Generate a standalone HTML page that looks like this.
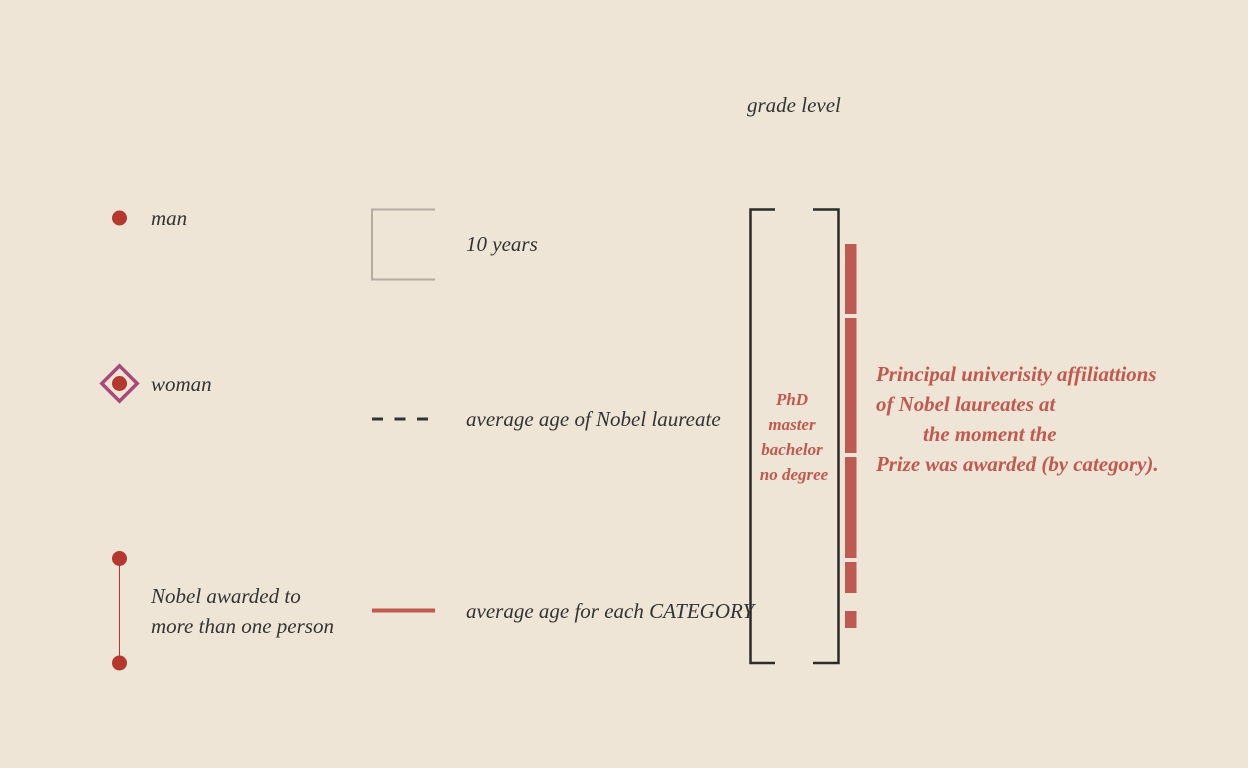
<!DOCTYPE html>
<html><head><meta charset="utf-8"><style>
html,body{margin:0;padding:0;background:#efe5d6;}
svg{display:block;font-family:"Liberation Serif",serif;font-style:italic;}
</style></head><body>
<svg width="1248" height="768" viewBox="0 0 1248 768">
<rect width="1248" height="768" fill="#efe5d6"/>
<g>
<circle cx="119.5" cy="218" r="7.5" fill="#b5382f"/>
<text x="151" y="225" font-size="21" fill="#333">man</text>
</g>
<g>
<rect x="107" y="371" width="25" height="25" fill="none" stroke="#a64a7a" stroke-width="3.5" transform="rotate(45 119.5 383.5)"/>
<circle cx="119.5" cy="383.5" r="7.5" fill="#b5382f"/>
<text x="151" y="391" font-size="21" fill="#333">woman</text>
</g>
<g>
<line x1="119.5" y1="558" x2="119.5" y2="663" stroke="#b5382f" stroke-width="1"/>
<circle cx="119.5" cy="558.5" r="7.5" fill="#b5382f"/>
<circle cx="119.5" cy="663" r="7.5" fill="#b5382f"/>
<text x="151" y="603" font-size="21" fill="#333">Nobel awarded to</text>
<text x="151" y="633" font-size="21" fill="#333">more than one person</text>
</g>
<g>
<path d="M435 209.5 H372 V279.5 H435" fill="none" stroke="#b5aca2" stroke-width="2"/>
<text x="466" y="251" font-size="21" fill="#333">10 years</text>
</g>
<g>
<line x1="372" y1="419" x2="432" y2="419" stroke="#333" stroke-width="3" stroke-dasharray="11,11.5"/>
<text x="466" y="426" font-size="21" fill="#333">average age of Nobel laureate</text>
</g>
<g>
<line x1="372" y1="610.5" x2="435" y2="610.5" stroke="#c05a50" stroke-width="4"/>
<text x="466" y="618" font-size="21" fill="#333">average age for each CATEGORY</text>
</g>
<text x="747" y="112" font-size="21" fill="#333">grade level</text>
<path d="M775 209.5 H750.5 V663 H775 M813 209.5 H838.5 V663 H813" fill="none" stroke="#2b2b2b" stroke-width="2.5"/>
<g font-size="17" font-weight="bold" fill="#c05a50" text-anchor="middle">
<text x="792" y="405">PhD</text>
<text x="792" y="430">master</text>
<text x="792" y="455">bachelor</text>
<text x="794" y="480">no degree</text>
</g>
<g id="bars"></g>
<g font-size="20.9" font-weight="bold" fill="#c05a50">
<text x="876" y="381">Principal univerisity affiliattions</text>
<text x="876" y="411">of Nobel laureates at</text>
<text x="923" y="441">the moment the</text>
<text x="876" y="471">Prize was awarded (by category).</text>
</g>
</svg>
<script>
const grades = ["PhD","master","bachelor","no degree","gap","other"];
const gradeValues = [70,135,101,31,10,17];
const visible = [1,1,1,1,0,1];
const g = document.getElementById('bars');
const y0 = 244, gapPx = 4, scale = 1;
let y = y0;
for (let i = 0; i < gradeValues.length; i++) {
  const h = gradeValues[i] * scale;
  if (visible[i]) {
    const r = document.createElementNS('http://www.w3.org/2000/svg','rect');
    r.setAttribute('x', 845); r.setAttribute('y', y);
    r.setAttribute('width', 11.5); r.setAttribute('height', h);
    r.setAttribute('fill', '#bd5a52');
    
    
    g.appendChild(r);
  }
  y += h + gapPx;
}
</script>
</body></html>
